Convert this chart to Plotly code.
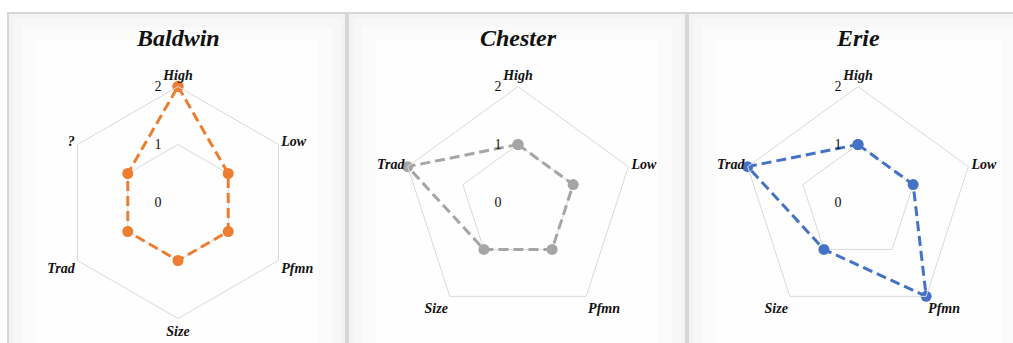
import plotly.graph_objects as go

# company radar data
baldwin_axes = ['High', 'Low', 'Pfmn', 'Size', 'Trad', '?']
baldwin_vals = [2, 1, 1, 1, 1, 1]

chester_axes = ['High', 'Low', 'Pfmn', 'Size', 'Trad']
chester_vals = [1, 1, 1, 1, 2]

erie_axes = ['High', 'Low', 'Pfmn', 'Size', 'Trad']
erie_vals = [1, 1, 2, 1, 2]

titles = ['Baldwin', 'Chester', 'Erie']
colors = ['#ED7D31', '#A5A5A5', '#4472C4']

W, H = 1013, 343
serif = 'Liberation Serif, Times New Roman, serif'

fig = go.Figure()

series = [(baldwin_axes, baldwin_vals), (chester_axes, chester_vals), (erie_axes, erie_vals)]
centers_x = [178, 518, 858]
cy, R = 202.5, 116

for i, (axes, vals) in enumerate(series):
    name = 'polar' if i == 0 else 'polar%d' % (i + 1)
    fig.add_trace(go.Scatterpolar(
        r=vals + vals[:1],
        theta=axes + axes[:1],
        mode='lines+markers',
        line=dict(color=colors[i], width=3, dash='10px,5px'),
        marker=dict(color=colors[i], size=11),
        subplot=name,
        showlegend=False,
        hoverinfo='skip',
    ))
    cx = centers_x[i]
    fig.update_layout(**{name: dict(
        domain=dict(x=[(cx - R) / W, (cx + R) / W],
                    y=[(H - cy - R) / H, (H - cy + R) / H]),
        bgcolor='rgba(0,0,0,0)',
        gridshape='linear',
        radialaxis=dict(range=[0, 2], dtick=1, showline=False, ticks='',
                        angle=90, tickangle=90, side='counterclockwise',
                        ticksuffix='\u2003', color='#111111',
                        gridcolor='#d9d9d9', gridwidth=1,
                        tickfont=dict(family=serif, size=14, color='#111111')),
        angularaxis=dict(direction='clockwise', rotation=90, showgrid=False,
                         showline=True, linecolor='#d9d9d9', linewidth=1, ticks='',
                         categoryorder='array', categoryarray=axes, color='#111111',
                         tickfont=dict(family=serif, size=14, color='#111111',
                                       weight='bold', style='italic')),
    )})

    # panel background (soft stepped gradient)
    x0 = [8, 348, 688][i]
    x1 = [346, 686, 1030][i]
    for inset, fill in [(0, '#f3f3f3'), (5, '#f7f7f7'), (14, '#fbfbfb'), (28, '#fefefe')]:
        fig.add_shape(type='rect', xref='paper', yref='paper',
                      x0=(x0 + inset) / W, x1=(x1 - inset) / W,
                      y0=-0.2, y1=(H - 13 - inset) / H,
                      fillcolor=fill, line=dict(width=0), layer='below')
    fig.add_shape(type='rect', xref='paper', yref='paper',
                  x0=x0 / W, x1=x1 / W, y0=-0.2, y1=(H - 13) / H,
                  fillcolor='rgba(0,0,0,0)', line=dict(color='#d6d6d6', width=2), layer='below')

    fig.add_annotation(text='<b><i>%s</i></b>' % titles[i], xref='paper', yref='paper',
                       x=cx / W, y=(H - 38) / H, xanchor='center', yanchor='middle',
                       showarrow=False,
                       font=dict(family=serif, size=24, color='#111111'))

fig.update_layout(width=W, height=H, margin=dict(l=0, r=0, t=0, b=0),
                  paper_bgcolor='white', showlegend=False)

fig.write_html('out.html', config={'displayModeBar': False},
               post_script="document.body.style.margin='0';document.body.style.overflow='hidden';")
